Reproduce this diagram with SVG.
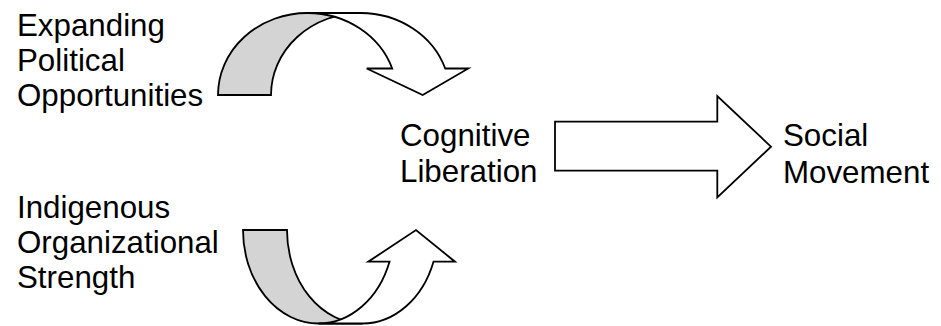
<svg xmlns="http://www.w3.org/2000/svg" width="941" height="326" viewBox="0 0 941 326">
  <style>
    .lbl { font-family: "Liberation Sans", Arial, sans-serif; font-size: 31.3px; fill: #000; }
    .shape { stroke: #000; stroke-width: 1.8; stroke-linejoin: miter; }
    .back { fill: #d4d4d4; }
    .front { fill: #fff; }
  </style>
  <rect width="941" height="326" fill="#fff"/>

  <g id="political-opportunities">
    <text class="lbl" x="17" y="36">Expanding</text>
    <text class="lbl" x="17" y="71">Political</text>
    <text class="lbl" x="17" y="106">Opportunities</text>
  </g>

  <g id="organizational-strength">
    <text class="lbl" x="17" y="218">Indigenous</text>
    <text class="lbl" x="17" y="253">Organizational</text>
    <text class="lbl" x="17" y="288">Strength</text>
  </g>

  <g id="cognitive-liberation">
    <text class="lbl" x="400" y="146">Cognitive</text>
    <text class="lbl" x="400" y="182">Liberation</text>
  </g>

  <g id="social-movement">
    <text class="lbl" x="783" y="146">Social</text>
    <text class="lbl" x="783" y="183">Movement</text>
  </g>

  <g id="connectors">
    <!-- curved down arrow: shaded back leg, then white front leg with head -->
    <path class="shape back" d="M218,95 A89.5,82 0 0 1 307.5,13 L360.5,13 A89.5,82 0 0 0 271,95 Z"/>
    <path class="shape front" d="M307.5,13 L360.5,13 A89.5,82 0 0 1 445.2,68.5 L468.3,68.5 L422.7,95 L366.7,68.5 L392.2,68.5 A89.5,82 0 0 0 307.5,13 Z"/>

    <!-- curved up arrow: shaded back leg, then white front leg with head -->
    <path class="shape back" d="M243,230 A75.5,93.5 0 0 0 318.5,323.5 L362.5,323.5 A75.5,93.5 0 0 1 287,230 Z"/>
    <path class="shape front" d="M318.5,323.5 L362.5,323.5 A75.5,93.5 0 0 0 433.5,261.7 L455,261.7 L416,230 L368.3,261.7 L389.5,261.7 A75.5,93.5 0 0 1 318.5,323.5 Z"/>

    <!-- block arrow to the outcome -->
    <path class="shape front" d="M555,121.7 L717.3,121.7 L717.3,96 L771,146.7 L717.3,197.3 L717.3,170.7 L555,170.7 Z"/>
  </g>
</svg>
